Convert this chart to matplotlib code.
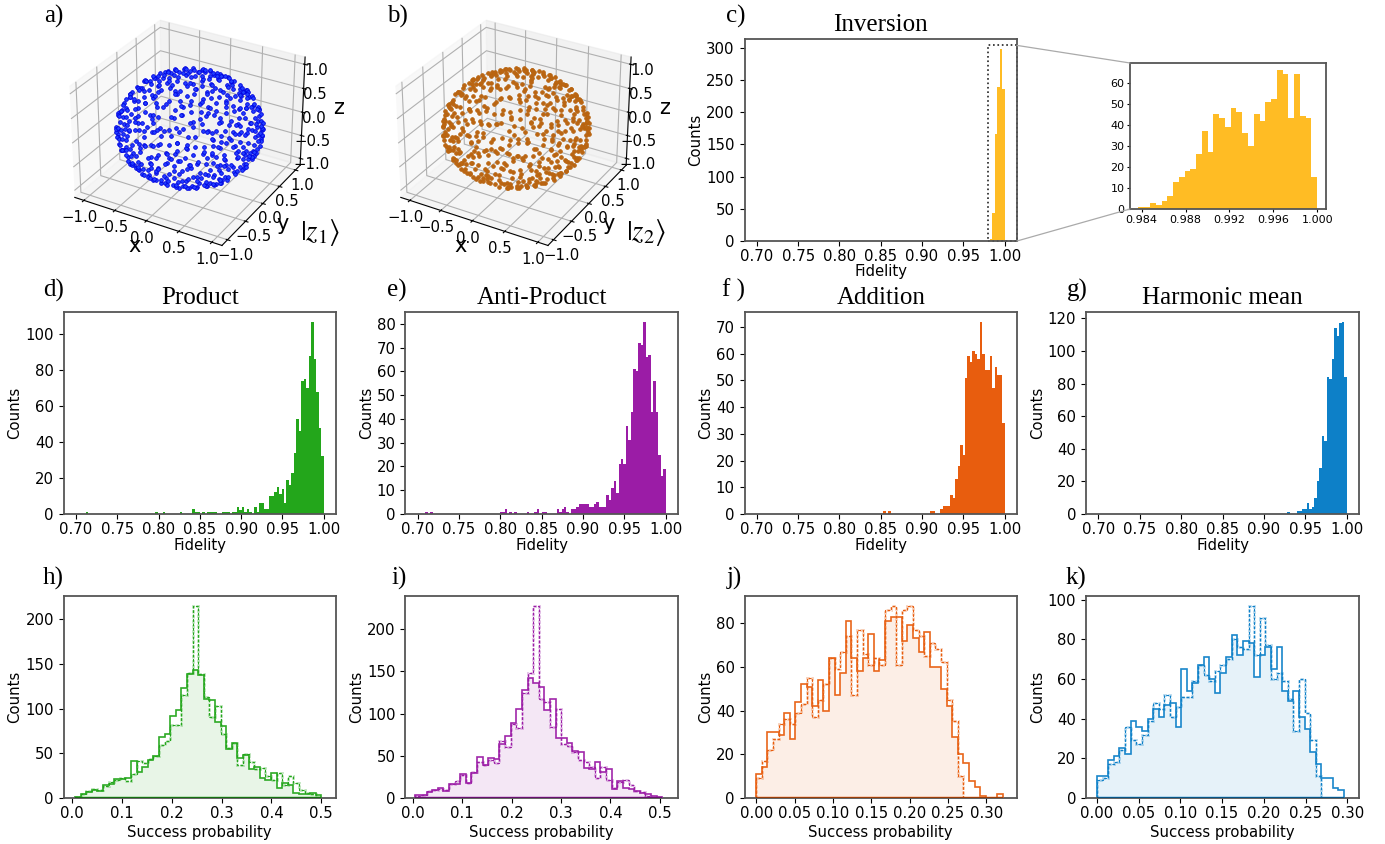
import numpy as np
import matplotlib
matplotlib.use("Agg")
import matplotlib.pyplot as plt
from matplotlib.patches import ConnectionPatch, Rectangle

W, H = 1385, 844

# fidelity histograms: 100 bins of 0.003 from 0.70 to 1.00
fid_edges = np.linspace(0.70, 1.00, 101)
inversion = [0] * 94 + [3, 44, 166, 240, 299, 237]
product = [0, 0, 0, 0, 1] + [0] * 27 + [1, 0, 0, 1] + [0] * 6 + [1] + [0] * 4 + [3, 1, 1, 0, 1, 0, 1, 1, 1, 1, 0, 0, 1, 1, 1, 0, 1, 1,
           4, 2, 4, 1, 3, 1, 0, 4, 1, 6, 6, 3, 3, 10, 10, 12, 15, 11, 14, 6, 19, 16, 23, 34, 53, 46, 74, 75, 70, 88, 107, 86, 68, 48, 32]
anti_product = [0, 0, 0, 1, 0, 1] + [0] * 27 + [1, 1, 2, 0, 1, 0, 1, 0, 0, 0, 0, 1, 0, 0, 1, 2, 0, 1, 1, 0, 0, 0, 0, 2, 1, 2, 3, 1, 0, 2, 2, 3,
                4, 4, 4, 4, 3, 3, 4, 5, 3, 3, 3, 8, 6, 11, 14, 9, 21, 23, 21, 37, 31, 43, 61, 60, 72, 71, 81, 66, 67, 43, 56, 43, 25, 16, 19]
addition = [0] * 51 + [1, 0, 1] + [0] * 16 + [1, 1, 0, 0, 2, 3, 3, 3, 7, 6, 13, 18, 26, 22, 51, 59, 57, 61, 60, 58, 72, 60, 54, 54, 59, 47, 55, 52, 52, 34]
harmonic = [0] * 76 + [1, 0, 0, 0, 2, 2, 3, 3, 7, 3, 4, 10, 20, 28, 48, 45, 84, 83, 95, 114, 109, 117, 118, 84]

# zoomed histogram of the inversion fidelity
inset_edges = np.linspace(0.9837, 1.0, 32)
inset_counts = [1, 1, 3, 2, 4, 6, 13, 15, 18, 19, 26, 37, 27, 45, 43, 39, 48, 46, 36, 30, 45, 42, 51, 52, 66, 64, 43, 64, 44, 43, 15]

# success probability histograms, solid and dashed outlines
prod_edges = np.linspace(0.0054, 0.5007, 45)
prod_solid = [1, 4, 7, 9, 8, 15, 16, 21, 21, 22, 41, 29, 35, 42, 47, 68, 72, 92, 98, 123, 139, 143, 137, 111, 110, 85, 80, 55, 62, 45, 48, 32, 35, 22, 20, 28, 11, 17, 14, 6, 5, 4, 6, 3]
prod_dash = [1, 4, 8, 10, 9, 13, 18, 20, 22, 19, 27, 41, 39, 44, 47, 59, 64, 82, 82, 115, 140, 215, 139, 113, 90, 103, 72, 56, 62, 37, 49, 40, 32, 34, 25, 20, 28, 14, 25, 17, 9, 6, 5, 1]
anti_edges = np.linspace(0.0047, 0.505, 45)
anti_solid = [3, 4, 7, 9, 12, 8, 17, 17, 28, 18, 30, 48, 39, 47, 46, 64, 73, 89, 106, 128, 142, 136, 132, 104, 117, 71, 71, 65, 56, 54, 36, 34, 43, 31, 34, 11, 20, 12, 11, 8, 6, 5, 2, 1]
anti_dash = [2, 4, 8, 9, 11, 9, 17, 20, 27, 18, 31, 43, 39, 45, 41, 67, 61, 88, 83, 125, 148, 228, 117, 114, 84, 105, 64, 62, 55, 45, 43, 37, 24, 37, 21, 12, 19, 21, 15, 8, 7, 2, 1, 0]
add_edges = np.linspace(0.0, 0.3213, 45)
add_solid = [11, 14, 30, 30, 29, 39, 27, 44, 52, 51, 42, 54, 40, 64, 47, 57, 81, 64, 58, 64, 75, 58, 63, 81, 83, 83, 72, 79, 73, 67, 76, 60, 60, 50, 42, 28, 20, 16, 8, 5, 1, 0, 0, 2]
add_dash = [9, 17, 22, 27, 34, 36, 34, 39, 43, 55, 37, 45, 52, 64, 59, 67, 74, 47, 77, 66, 61, 64, 61, 86, 88, 61, 86, 88, 77, 74, 65, 71, 68, 62, 45, 35, 10, 0, 0, 0, 0, 0, 0, 0]
harm_edges = np.linspace(0.0, 0.296, 45)
harm_solid = [11, 11, 19, 21, 25, 22, 39, 36, 34, 40, 45, 41, 47, 48, 36, 65, 54, 58, 67, 71, 60, 53, 63, 71, 82, 72, 79, 78, 61, 72, 76, 65, 76, 54, 49, 54, 41, 35, 23, 17, 10, 10, 5, 4]
harm_dash = [9, 10, 17, 18, 24, 36, 29, 27, 32, 39, 48, 45, 52, 41, 46, 51, 51, 59, 67, 62, 59, 64, 67, 70, 80, 76, 75, 97, 72, 91, 77, 60, 63, 59, 50, 34, 60, 43, 29, 11, 0, 0, 0, 0]

fid_ticks = [0.70, 0.75, 0.80, 0.85, 0.90, 0.95, 1.00]
prob_ticks_wide = [0.0, 0.1, 0.2, 0.3, 0.4, 0.5]
prob_ticks_narrow = [0.00, 0.05, 0.10, 0.15, 0.20, 0.25, 0.30]
inset_ticks = [0.984, 0.988, 0.992, 0.996, 1.000]
inset_yticks = [0, 10, 20, 30, 40, 50, 60]
inversion_yticks = [0, 50, 100, 150, 200, 250, 300]
product_yticks = [0, 20, 40, 60, 80, 100]
anti_yticks = [0, 10, 20, 30, 40, 50, 60, 70, 80]
addition_yticks = [0, 10, 20, 30, 40, 50, 60, 70]
harmonic_yticks = [0, 20, 40, 60, 80, 100, 120]
prod_prob_yticks = [0, 50, 100, 150, 200]
add_prob_yticks = [0, 20, 40, 60, 80]
harm_prob_yticks = [0, 20, 40, 60, 80, 100]

# states on the sphere, longitude and latitude in degrees, estimated by eye
z1_lonlat = [
    -178,3, -165,7, -150,1, -138,8, -125,5, -112,2, -101,9, -86,4, -74,6, -60,1, -47,8, -33,3, -22,5, -8,9, 6,2, 20,7, 31,4, 47,1, 58,6, 73,9, 88,3, 99,8, 115,5, 128,2, 144,7, 160,4,
    -172,14, -158,11, -144,18, -129,13, -118,19, -103,12, -90,16, -77,11, -63,19, -49,14, -37,17, -24,12, -10,18, 4,15, 17,11, 33,19, 44,13, 61,16, 75,12, 86,18, 102,14, 117,11, 131,17, 147,13, 165,19,
    -176,24, -160,28, -147,22, -131,26, -116,29, -100,21, -85,27, -70,23, -55,29, -41,25, -26,22, -11,28, 3,24, 18,29, 35,21, 49,26, 64,23, 79,28, 94,25, 108,21, 123,27, 138,24, 152,29, 168,22,
    -169,33, -152,37, -136,31, -117,35, -99,39, -83,32, -66,36, -48,34, -31,38, -14,31, 2,36, 19,33, 37,39, 53,32, 70,37, 87,34, 104,38, 121,31, 139,36, 156,33, 173,38,
    -164,44, -143,41, -122,48, -101,43, -80,46, -60,42, -39,49, -18,44, 3,41, 24,47, 45,43, 66,48, 86,41, 106,45, 127,49, 147,42, 166,46, -178,48,
    -170,55, -146,52, -120,58, -95,53, -72,57, -46,51, -21,56, 4,53, 28,59, 53,52, 78,56, 103,51, 127,57, 151,54, 176,59,
    -160,65, -125,62, -92,68, -58,63, -25,67, 8,61, 42,66, 76,63, 110,69, 143,62, 177,66,
    -150,74, -96,71, -42,76, 12,72, 66,78, 120,73, 172,75, -60,84, 100,86,
    -172,-4, -158,-8, -145,-2, -131,-7, -118,-3, -104,-9, -91,-5, -79,-1, -66,-6, -52,-9, -39,-3, -27,-7, -13,-2, 1,-8, 14,-4, 28,-9, 41,-1, 53,-6, 68,-3, 82,-8, 95,-2, 109,-7, 122,-4, 137,-9, 151,-1, 167,-6,
    -179,-13, -163,-18, -149,-11, -135,-16, -121,-12, -107,-19, -94,-14, -81,-17, -68,-11, -54,-15, -41,-19, -29,-12, -15,-17, -1,-13, 12,-18, 26,-11, 39,-16, 52,-19, 67,-14, 80,-12, 97,-18, 111,-13, 126,-16, 140,-11, 156,-19,
    -168,-24, -154,-28, -140,-21, -124,-27, -108,-23, -93,-29, -78,-25, -63,-21, -46,-26, -32,-29, -17,-22, -2,-27, 14,-24, 29,-29, 43,-21, 57,-26, 72,-23, 90,-28, 105,-25, 119,-22, 134,-27, 149,-23, 163,-29, 178,-25,
    -175,-34, -157,-38, -141,-31, -125,-36, -107,-33, -89,-39, -72,-32, -56,-37, -38,-34, -20,-39, -4,-31, 13,-36, 31,-33, 48,-38, 65,-31, 82,-35, 100,-39, 117,-32, 134,-37, 151,-34, 168,-31,
    -167,-44, -146,-48, -126,-41, -105,-46, -84,-43, -63,-49, -43,-42, -22,-47, -1,-44, 19,-41, 40,-48, 60,-43, 80,-46, 101,-41, 122,-47, 142,-44, 162,-49, 179,-42,
    -173,-54, -148,-58, -123,-52, -98,-57, -74,-53, -49,-59, -25,-51, 1,-56, 25,-53, 50,-58, 75,-52, 99,-56, 124,-59, 149,-53, 174,-57,
    -155,-64, -122,-68, -89,-62, -55,-67, -21,-63, 12,-69, 46,-64, 80,-61, 113,-66, 147,-63, 178,-68,
    -140,-73, -88,-77, -36,-71, 16,-75, 70,-72, 122,-78, 170,-74, -30,-85, 140,-83,
    -171,6, -143,4, -118,9, -93,2, -67,5, -40,7, -15,1, 13,6, 39,9, 66,3, 80,6, 106,2, 136,8, 152,3, 172,6, -131,1, -54,4, 26,1, 94,7, 122,9,
    -151,14, -124,17, -97,13, -70,15, -43,12, -17,15, 10,19, 38,16, 54,11, 81,14, 109,17, 139,15, 156,12, 179,16, -84,19, -30,19, 68,18, 124,13,
    -153,25, -123,22, -92,29, -62,21, -33,26, -4,22, 26,25, 42,28, 71,21, 101,29, 130,23, 145,27, 175,28, -107,25, -19,24, 57,29, 115,24,
    -161,35, -126,38, -90,31, -57,38, -22,34, 11,37, 45,35, 78,38, 96,32, 130,34, 165,32, -108,32, -40,31, 28,39, 112,35,
    -154,47, -112,42, -70,49, -28,42, 14,46, 55,41, 76,45, 96,47, 137,45, 175,42, -133,44, -49,45, 35,44,
    -158,58, -108,54, -59,59, -9,52, 40,54, 66,58, 91,55, 115,59, 139,52, 164,55, -33,53,
    -142,66, -75,62, -8,68, 59,65, 93,62, 127,67, 160,63, -41,61,
    -123,75, -15,77, 39,75, 93,74, 146,78,
    -165,-5, -138,-2, -111,-6, -85,-9, -59,-3, -33,-5, -7,-7, 21,-2, 47,-5, 75,-8, 102,-5, 130,-1, 159,-4, 176,-8, -152,-9, -72,-7, -20,-1, 35,-7, 89,-4, 116,-2,
    -171,-11, -142,-14, -114,-17, -87,-12, -61,-18, -35,-15, -8,-11, 19,-14, 46,-12, 73,-17, 104,-15, 133,-19, 148,-13, 172,-15, -128,-11, -48,-12, 59,-15, 88,-11,
    -175,-22, -147,-26, -116,-22, -85,-27, -54,-23, -25,-26, 6,-22, 36,-27, 64,-29, 98,-23, 127,-25, 156,-27, 171,-21, -132,-29, -70,-24, 22,-21, 80,-24,
    -166,-33, -133,-37, -98,-31, -64,-35, -29,-38, 4,-34, 40,-37, 73,-33, 91,-38, 108,-33, 142,-38, 160,-35, -116,-39, -47,-33, 22,-32,
    -156,-42, -115,-46, -74,-41, -32,-45, 9,-49, 50,-44, 70,-41, 91,-47, 132,-42, 172,-46, -136,-49, -53,-46, 30,-42,
    -160,-56, -110,-53, -61,-57, -12,-54, 37,-59, 62,-55, 87,-53, 112,-57, 137,-52, 161,-59, -37,-52,
    -138,-62, -72,-65, -5,-61, 29,-66, 63,-67, 96,-63, 130,-69, 163,-65,
    -114,-75, -10,-78, 43,-73, 96,-75, 150,-71,
]
z2_lonlat = [
    -174,6, -161,2, -148,9, -133,4, -121,7, -107,1, -96,5, -81,9, -69,3, -55,8, -42,2, -28,6, -17,9, -3,1, 11,5, 25,3, 36,8, 51,6, 63,1, 78,4, 92,9, 104,2, 119,7, 133,5, 149,1, 165,8,
    -176,12, -155,16, -141,11, -126,19, -113,14, -98,17, -85,12, -72,18, -58,11, -44,16, -32,13, -19,19, -5,12, 9,17, 22,14, 38,11, 49,18, 66,13, 80,16, 91,11, 107,19, 122,15, 136,12, 152,18, 170,14,
    -171,27, -156,23, -142,29, -126,21, -111,25, -95,28, -80,22, -65,26, -50,24, -36,29, -21,27, -6,21, 8,25, 23,22, 40,28, 54,24, 69,29, 84,21, 99,27, 113,23, 128,26, 143,29, 157,22, 173,25,
    -164,36, -147,32, -131,38, -112,33, -94,36, -78,39, -61,31, -43,37, -26,33, -9,39, 7,32, 24,37, 42,34, 58,38, 75,31, 92,36, 109,33, 126,39, 144,32, 161,37, 178,34,
    -159,41, -138,46, -117,43, -96,48, -75,41, -55,45, -34,43, -13,48, 8,46, 29,42, 50,47, 71,44, 91,49, 111,42, 132,47, 152,44, 171,41, -173,46,
    -165,52, -141,57, -115,54, -90,59, -67,52, -41,56, -16,53, 9,58, 33,54, 58,57, 83,52, 108,58, 132,53, 156,56, -179,53,
    -155,62, -120,67, -87,63, -53,69, -20,62, 13,66, 47,63, 81,68, 115,64, 148,67, -172,63,
    -145,71, -91,76, -37,73, 17,78, 71,72, 125,75, 177,72, -55,83, 105,85,
    -177,-6, -163,-2, -150,-9, -136,-4, -123,-7, -109,-1, -96,-6, -84,-8, -71,-3, -57,-5, -44,-9, -32,-1, -18,-7, -4,-3, 9,-8, 23,-2, 36,-5, 48,-9, 63,-1, 77,-4, 90,-7, 104,-3, 117,-8, 132,-6, 146,-2, 162,-9,
    -174,-17, -158,-12, -144,-19, -130,-13, -116,-15, -102,-11, -89,-18, -76,-12, -63,-16, -49,-19, -36,-13, -24,-11, -10,-15, 4,-18, 17,-12, 31,-16, 44,-11, 57,-14, 72,-19, 85,-13, 102,-17, 116,-11, 131,-19, 145,-14, 161,-12,
    -163,-27, -149,-23, -135,-29, -119,-22, -103,-26, -88,-24, -73,-28, -58,-23, -41,-29, -27,-21, -12,-25, 3,-28, 19,-22, 34,-26, 48,-29, 62,-23, 77,-27, 95,-21, 110,-24, 124,-29, 139,-22, 154,-26, 168,-23, -179,-28,
    -170,-31, -152,-35, -136,-39, -120,-32, -102,-37, -84,-34, -67,-38, -51,-31, -33,-36, -15,-33, 1,-38, 18,-31, 36,-35, 53,-39, 70,-33, 87,-37, 105,-31, 122,-36, 139,-33, 156,-38, 173,-35,
    -162,-47, -141,-42, -121,-45, -100,-41, -79,-48, -58,-44, -38,-47, -17,-41, 4,-46, 24,-43, 45,-49, 65,-42, 85,-45, 106,-48, 127,-41, 147,-46, 167,-43, -178,-49,
    -168,-51, -143,-56, -118,-53, -93,-59, -69,-52, -44,-55, -20,-58, 6,-51, 30,-57, 55,-53, 80,-59, 104,-52, 129,-55, 154,-58, 179,-52,
    -150,-67, -117,-62, -84,-68, -50,-63, -16,-66, 17,-62, 51,-69, 85,-64, 118,-67, 152,-61, -176,-65,
    -135,-76, -83,-72, -31,-77, 21,-71, 75,-75, 127,-73, 175,-78, -25,-84, 145,-86,
    -168,3, -141,7, -115,2, -89,5, -62,9, -35,3, -10,6, 17,8, 43,2, 71,7, 85,2, 112,5, 141,9, 157,4, 177,2, -127,8, -49,1, 30,5, 98,4, 126,8,
    -148,16, -120,11, -92,14, -65,13, -38,19, -12,14, 16,11, 30,16, 58,19, 86,15, 115,12, 144,17, 161,15, -165,18, -79,16, -25,15, 73,11, 129,19,
    -149,26, -119,28, -88,25, -58,27, -29,22, 0,28, 32,24, 47,22, 76,25, 106,26, 135,21, 150,25, 179,23, -103,22, -14,25, 61,27, 120,28,
    -155,31, -122,36, -86,37, -52,33, -18,36, 15,31, 50,36, 84,33, 101,39, 135,35, 169,37, -103,35, -35,39, 33,34, 117,37,
    -149,43, -107,46, -65,47, -24,45, 19,43, 60,46, 81,41, 101,45, 142,41, 179,47, -128,48, -45,41, 40,43,
    -153,55, -103,52, -54,54, -4,59, 45,56, 70,53, 96,57, 120,54, 144,59, 168,52, -29,58,
    -138,64, -70,66, -3,61, 64,62, 98,67, 131,63, 165,66, -36,67,
    -118,73, -10,75, 44,77, 98,71, 151,76,
    -170,-8, -143,-5, -116,-2, -90,-5, -64,-7, -38,-6, -11,-2, 16,-9, 42,-4, 70,-6, 97,-9, 125,-5, 154,-3, 179,-5, -157,-3, -77,-2, -25,-9, 30,-6, 84,-1, 111,-8,
    -166,-14, -137,-11, -109,-14, -82,-17, -56,-11, -30,-18, -3,-16, 24,-18, 51,-17, 79,-11, 109,-19, 138,-12, 153,-17, 177,-11, -123,-18, -43,-15, 64,-13, 94,-15,
    -170,-26, -142,-22, -111,-28, -80,-21, -49,-26, -20,-23, 11,-28, 41,-24, 69,-21, 103,-27, 132,-23, 161,-21, 176,-27, -127,-24, -65,-28, 27,-25, 85,-29,
    -161,-36, -128,-33, -93,-36, -59,-33, -24,-31, 9,-37, 45,-32, 78,-38, 96,-34, 113,-38, 147,-31, 165,-38, -111,-32, -42,-38, 27,-36,
    -151,-44, -110,-41, -69,-46, -27,-43, 14,-42, 55,-47, 75,-44, 96,-42, 137,-47, 177,-41, -131,-43, -48,-42, 35,-47,
    -155,-53, -105,-58, -56,-52, -7,-57, 42,-54, 67,-51, 92,-57, 117,-53, 142,-58, 166,-54, -32,-55,
    -133,-65, -67,-62, 0,-67, 34,-63, 68,-62, 101,-66, 135,-63, 168,-69,
    -109,-72, -5,-74, 48,-77, 101,-71, 155,-76,
]

# colours of the series
GREEN = "#23a61b"
PURPLE = "#9b1ca6"
ORANGE = "#e85d0e"
BLUE = "#0d80c8"
YELLOW = "#ffbc24"

TICK_FS = 10.7
SPINE = "#555555"

plt.rcParams["font.family"] = "DejaVu Sans"
plt.rcParams["font.size"] = TICK_FS

fig = plt.figure(figsize=(W / 100, H / 100), dpi=100)


def add_px_axes(left, top, right, bottom):
    return fig.add_axes([left / W, 1 - bottom / H, (right - left) / W, (bottom - top) / H])


def style(ax, xlabel, ticks, yticks, labelpad):
    ax.set_xticks(ticks)
    ax.set_yticks(yticks)
    ax.set_xlabel(xlabel, fontsize=TICK_FS, labelpad=labelpad)
    ax.set_ylabel("Counts", fontsize=TICK_FS, labelpad=2)
    ax.tick_params(labelsize=TICK_FS)
    ax.tick_params(axis="x", pad=2.5)
    for s in ax.spines.values():
        s.set_color(SPINE)
        s.set_linewidth(1.3)


def fidelity_panel(box, counts, color, title, yticks, labelpad=0.5):
    ax = add_px_axes(*box)
    ax.stairs(counts, fid_edges, fill=True, color=color)
    ax.set_xlim(0.685, 1.015)
    ax.set_ylim(0, max(counts) * 1.05)
    style(ax, "Fidelity", fid_ticks, yticks, labelpad)
    ax.set_title(title, family="Liberation Serif", fontsize=18, pad=6)
    return ax


def prob_panel(box, edges, solid, dash, color, xlim, ticks, yticks):
    ax = add_px_axes(*box)
    ax.stairs(np.minimum(solid, dash), edges, fill=True, color=color, alpha=0.1)
    ax.stairs(dash, edges, color=color, alpha=0.3, lw=2.0, ls=(0, (1.2, 0.6)))
    ax.stairs(dash, edges, color=color, lw=0.8, ls=(0, (2.5, 1.5)))
    ax.stairs(solid, edges, color=color, lw=1.2, alpha=0.95)
    ax.hlines(0, edges[0], edges[-1], color=color, lw=2.5, zorder=3)
    ax.hlines(0, edges[0], edges[-1], color="k", lw=1.2, alpha=0.4, zorder=3)
    ax.set_xlim(*xlim)
    ax.set_ylim(0, max(max(solid), max(dash)) * 1.05)
    style(ax, "Success probability", ticks, yticks, 2.5)
    return ax


def sphere_panel(left, lonlat, face, edge, ket, ket_x):
    pts = np.radians(np.array(lonlat, dtype=float).reshape(-1, 2))
    x = np.cos(pts[:, 1]) * np.cos(pts[:, 0])
    y = np.cos(pts[:, 1]) * np.sin(pts[:, 0])
    z = np.sin(pts[:, 1])
    ax = fig.add_axes([left / W, 1 - 262 / H, 262 / W, 262 / H], projection="3d")
    ax.patch.set_alpha(0)
    ax.scatter(x, y, z, s=7, c=face, edgecolors=edge, linewidths=0.6, depthshade=False)
    ax.set_xlim(-1.15, 1.15)
    ax.set_ylim(-1.15, 1.15)
    ax.set_zlim(-1.15, 1.15)
    ax.set_xticks([-1, -0.5, 0, 0.5, 1])
    ax.set_yticks([-1, -0.5, 0, 0.5, 1])
    ax.set_zticks([-1, -0.5, 0, 0.5, 1])
    ax.tick_params(labelsize=TICK_FS, pad=-3)
    ax.set_xlabel("x", fontsize=15, labelpad=-8)
    ax.set_ylabel("y", fontsize=15, labelpad=-8)
    ax.zaxis.set_rotate_label(False)
    ax.set_zlabel("z", fontsize=15, labelpad=-5, rotation=0)
    fig.text(ket_x / W, 1 - 233 / H, ket, fontsize=21, ha="center", va="center",
             math_fontfamily="stix", family="Liberation Serif")
    return ax


sphere_panel(55, z1_lonlat, "#2040ff", "#0000e0", r"$|z_1\rangle$", 320)
sphere_panel(381, z2_lonlat, "#bb6614", "#b8640f", r"$|z_2\rangle$", 646)

ax_c = fidelity_panel((744.5, 39, 1017, 241), inversion, YELLOW, "Inversion", inversion_yticks, labelpad=-0.5)
fidelity_panel((63.6, 312, 336, 514), product, GREEN, "Product", product_yticks)
fidelity_panel((405.4, 312, 678, 514), anti_product, PURPLE, "Anti-Product", anti_yticks)
fidelity_panel((744.5, 312, 1017, 514), addition, ORANGE, "Addition", addition_yticks)
fidelity_panel((1086, 312, 1359, 514), harmonic, BLUE, "Harmonic mean", harmonic_yticks)

prob_panel((63.6, 596, 336, 798), prod_edges, prod_solid, prod_dash, GREEN, (-0.0175, 0.530), prob_ticks_wide, prod_prob_yticks)
prob_panel((405.4, 596, 678, 798), anti_edges, anti_solid, anti_dash, PURPLE, (-0.0154, 0.537), prob_ticks_wide, prod_prob_yticks)
prob_panel((744.5, 596, 1017, 798), add_edges, add_solid, add_dash, ORANGE, (-0.0154, 0.3402), prob_ticks_narrow, add_prob_yticks)
prob_panel((1086, 596, 1359, 798), harm_edges, harm_solid, harm_dash, BLUE, (-0.0132, 0.3141), prob_ticks_narrow, harm_prob_yticks)

# inset with the zoomed peak of panel c
ax_in = add_px_axes(1130, 63, 1326, 209)
ax_in.stairs(inset_counts, inset_edges, fill=True, color=YELLOW)
ax_in.set_xlim(0.98293, 1.0008)
ax_in.set_ylim(0, max(inset_counts) * 1.05)
ax_in.set_xticks(inset_ticks)
ax_in.set_xticklabels(["%.3f" % t for t in inset_ticks])
ax_in.set_yticks(inset_yticks)
ax_in.tick_params(labelsize=8, length=2.5, pad=1.5)
for s in ax_in.spines.values():
    s.set_color(SPINE)
    s.set_linewidth(1.3)

ax_c.add_patch(Rectangle((0.98, 0), 0.035, 304, fill=False, ec="#222222", lw=1.2, ls=":", clip_on=False))
for yc, ya in [(304, 1), (0, 0)]:
    fig.add_artist(ConnectionPatch((1.015, yc), (0, ya), coordsA=ax_c.transData, coordsB=ax_in.transAxes,
                                   color="#aaaaaa", lw=0.9))

# panel letters, left edge and baseline in pixels
letters = ["a)", "b)", "c)", "d)", "e)", "f )", "g)", "h)", "i)", "j)", "k)"]
letter_x = [44, 387, 726, 43, 387, 722, 1067, 43, 391, 727, 1066]
letter_y = [23, 23, 23, 297, 297, 297, 297, 585, 585, 585, 585]
for s, lx, ly in zip(letters, letter_x, letter_y):
    fig.text(lx / W, 1 - ly / H, s, family="Liberation Serif", fontsize=18, ha="left", va="baseline")

fig.savefig("out.png", dpi=100)
